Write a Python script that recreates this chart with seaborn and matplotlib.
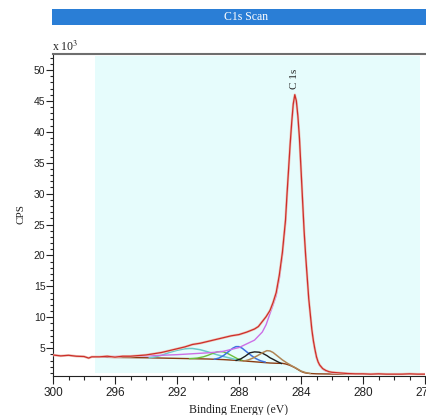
import numpy as np
import pandas as pd
import seaborn as sns
import matplotlib
matplotlib.use("Agg")
import matplotlib.pyplot as plt
from matplotlib.ticker import MultipleLocator, FixedLocator
from matplotlib.patches import Rectangle

# ---------------- C 1s spectrum (binding energy in eV, counts in units of 10^3 CPS) ----------------
raw_be = [300.0, 299.5, 299.0, 298.5, 298.0, 297.7, 297.5, 297.0, 296.5, 296.0, 295.5, 295.0,
          294.5, 294.0, 293.5, 293.0, 292.5, 292.0, 291.5, 291.0, 290.5, 290.0, 289.5, 289.0,
          288.5, 288.0, 287.5, 287.0, 286.75, 286.5, 286.25, 286.0, 285.8, 285.6, 285.4, 285.2,
          285.0, 284.9, 284.8, 284.7, 284.6, 284.5, 284.4, 284.3, 284.2, 284.1, 284.0, 283.9,
          283.8, 283.7, 283.6, 283.5, 283.4, 283.3, 283.2, 283.1, 283.0, 282.9, 282.8, 282.6,
          282.4, 282.2, 282.0, 281.5, 281.0, 280.5, 280.0, 279.5, 279.0, 278.5, 278.0, 277.5,
          277.0, 276.5, 276.0]
raw_cps = [3.9, 3.75, 3.85, 3.7, 3.65, 3.4, 3.6, 3.6, 3.7, 3.55, 3.7, 3.7,
           3.8, 3.9, 4.1, 4.3, 4.6, 4.9, 5.2, 5.6, 5.8, 6.1, 6.4, 6.7,
           7.0, 7.2, 7.6, 8.1, 8.5, 9.3, 10.1, 11.1, 12.4, 14.0, 16.8, 20.5,
           25.7, 30.0, 34.0, 38.0, 41.5, 44.5, 46.0, 45.0, 42.5, 39.0, 34.0, 29.0,
           24.0, 20.0, 16.5, 13.0, 10.5, 8.0, 6.2, 4.8, 3.6, 2.8, 2.3, 1.7,
           1.4, 1.2, 1.1, 1.0, 0.9, 0.85, 0.85, 0.8, 0.85, 0.8, 0.8, 0.8,
           0.85, 0.8, 0.8]

# Shirley-type background under the fitted region
bg_be = [297.3, 296.0, 294.0, 292.0, 290.0, 289.0, 288.0, 287.0, 286.0, 285.5, 285.2, 285.0,
         284.8, 284.6, 284.4, 284.2, 284.0, 283.8, 283.6, 283.4, 283.0, 282.0, 280.0, 278.0, 276.3]
bg_cps = [3.55, 3.5, 3.45, 3.35, 3.25, 3.15, 3.0, 2.8, 2.6, 2.55, 2.55, 2.45,
          2.3, 2.1, 1.85, 1.55, 1.25, 1.05, 0.95, 0.9, 0.85, 0.82, 0.8, 0.8, 0.8]

# Fitted components (background included)
cc_be = [297.3, 296.0, 295.0, 294.0, 293.0, 292.0, 291.0, 290.0, 289.5, 289.0, 288.5, 288.0,
         287.5, 287.0, 286.5, 286.25, 286.0, 285.8, 285.6, 285.4, 285.2, 285.0, 284.9, 284.8,
         284.7, 284.6, 284.5, 284.4, 284.3, 284.2, 284.1, 284.0, 283.9, 283.8, 283.7, 283.6,
         283.5, 283.4, 283.3, 283.2, 283.1, 283.0, 282.8, 282.6, 282.4, 282.0, 281.0, 280.0,
         278.0, 276.3]
cc_cps = [3.6, 3.65, 3.7, 3.75, 3.85, 3.95, 4.1, 4.25, 4.35, 4.5, 4.8, 5.1,
          5.7, 6.3, 7.6, 8.8, 10.6, 12.0, 13.5, 16.2, 20.0, 25.2, 29.6, 33.7,
          37.7, 41.2, 44.2, 45.8, 44.8, 42.3, 38.8, 33.8, 28.8, 23.8, 19.8, 16.3,
          12.8, 10.3, 7.8, 6.0, 4.6, 3.4, 2.2, 1.6, 1.3, 1.05, 0.9, 0.85,
          0.8, 0.8]

pipi_be = [293.8, 293.4, 293.0, 292.5, 292.0, 291.5, 291.2, 291.0, 290.5, 290.0, 289.5, 289.0,
           288.5, 288.0]
pipi_cps = [3.45, 3.6, 3.85, 4.3, 4.65, 4.9, 4.95, 4.95, 4.75, 4.4, 4.0, 3.65,
            3.35, 3.05]

cooh_be = [291.2, 290.7, 290.3, 290.0, 289.7, 289.4, 289.2, 289.0, 288.7, 288.4, 288.1, 287.8]
cooh_cps = [3.3, 3.4, 3.6, 3.85, 4.15, 4.4, 4.45, 4.4, 4.1, 3.7, 3.3, 3.05]

co_be = [289.6, 289.3, 289.0, 288.7, 288.4, 288.2, 288.0, 287.8, 287.5, 287.2, 286.9, 286.6, 286.3]
co_cps = [3.2, 3.4, 3.8, 4.4, 5.0, 5.25, 5.25, 5.0, 4.4, 3.8, 3.3, 2.95, 2.75]

coc_be = [288.2, 287.9, 287.6, 287.3, 287.0, 286.7, 286.5, 286.2, 286.0, 285.8, 285.5, 285.25]
coc_cps = [3.0, 3.25, 3.7, 4.25, 4.4, 4.35, 4.2, 3.8, 3.45, 3.2, 2.8, 2.5]

coh_be = [287.7, 287.4, 287.1, 286.8, 286.5, 286.2, 286.0, 285.8, 285.5, 285.2, 284.9, 284.6,
          284.3, 284.0, 283.7, 283.4]
coh_cps = [2.9, 3.1, 3.4, 3.8, 4.25, 4.6, 4.55, 4.3, 3.7, 3.1, 2.6, 2.15,
           1.75, 1.3, 1.05, 0.9]

x_major = [300, 296, 292, 288, 284, 280, 276]
y_major = [5, 10, 15, 20, 25, 30, 35, 40, 45, 50]
region_lo, region_hi = 276.3, 297.3
peak_label, peak_pos = "C 1s", 284.4

# ---------------- style ----------------
sns.set_style("ticks")
plt.rcParams["font.family"] = ["Liberation Serif", "DejaVu Serif"]
plt.rcParams["mathtext.fontset"] = "stix"

fig = plt.figure(figsize=(4.27, 4.15), dpi=100)
ax = fig.add_axes([53 / 427, 39 / 415, 372 / 427, 321.5 / 415])
ax.set_facecolor("white")

# region of the fit
ax.axvspan(region_lo, region_hi, ymin=0.008, ymax=0.995, color="#e6fcfc", lw=0, zorder=0)

def draw(be, cps, color, lw=1.0, z=2):
    df = pd.DataFrame({"be": be, "cps": cps})
    sns.lineplot(data=df, x="be", y="cps", color=color, lw=lw, ax=ax,
                 estimator=None, sort=False, zorder=z)

draw(bg_be, bg_cps, "#8a3c12", 1.0, 2)
draw(pipi_be, pipi_cps, "#6ccaca", 1.1, 3)
draw(cooh_be, cooh_cps, "#6cbf3c", 1.0, 3)
draw(co_be, co_cps, "#3f74e0", 1.1, 3)
draw(coc_be, coc_cps, "#1e1e1e", 1.0, 3)
draw(coh_be, coh_cps, "#b08555", 1.1, 3)
draw(cc_be, cc_cps, "#cc6fe6", 1.0, 4)
draw(raw_be, raw_cps, "#edc6bc", 1.8, 5)
draw(raw_be, raw_cps, "#cc2f2a", 0.9, 6)

ax.text(peak_pos, 47.0, peak_label, rotation=90, ha="center", va="bottom",
        fontsize=8, color="#222222")

ax.set_xlim(300, 276)
ax.set_ylim(0.5, 52.5)
ax.xaxis.set_major_locator(FixedLocator(x_major))
ax.xaxis.set_minor_locator(MultipleLocator(1))
ax.yaxis.set_major_locator(FixedLocator(y_major))
ax.yaxis.set_minor_locator(MultipleLocator(1))
ax.set_xticklabels([str(v) for v in x_major])
ax.set_yticklabels([str(v) for v in y_major])

ax.tick_params(axis="x", which="major", direction="out", length=5.8, width=0.8, pad=2,
               labelsize=8.5, colors="#222222")
ax.tick_params(axis="x", which="minor", direction="out", length=2.9, width=0.8)
ax.tick_params(axis="y", which="major", direction="out", length=5.0, width=0.8, pad=0.5,
               labelsize=7.5, colors="#222222")
ax.tick_params(axis="y", which="minor", direction="out", length=2.2, width=0.8)
for lab in ax.get_xticklabels() + ax.get_yticklabels():
    lab.set_family(["Liberation Sans Narrow", "Liberation Sans", "DejaVu Sans"])

ax.spines["right"].set_visible(False)
ax.spines["top"].set_color("#6e6e6e")
ax.spines["top"].set_linewidth(1.5)
ax.spines["left"].set_color("#222222")
ax.spines["left"].set_linewidth(0.8)
ax.spines["bottom"].set_color("#222222")
ax.spines["bottom"].set_linewidth(0.8)

ax.set_xlabel("Binding Energy (eV)", fontsize=8.5, labelpad=4, color="#222222")
ax.set_ylabel("")
fig.text(21 / 427, (415 - 214) / 415, "CPS", rotation=90, ha="center", va="center",
         fontsize=8, color="#222222")
fig.text(52 / 427, (415 - 51) / 415, r"x 10$^{3}$", ha="left", va="baseline",
         fontsize=8.5, color="#222222")

# title bar
fig.patches.append(Rectangle((52 / 427, (415 - 25) / 415), 375 / 427, 16 / 415,
                             transform=fig.transFigure, facecolor="#2a7ed6",
                             edgecolor="none", zorder=0))
fig.text(246 / 427, (415 - 17) / 415, "C1s Scan", ha="center", va="center",
         fontsize=8.5, color="white")

fig.savefig("out.png", dpi=100)
